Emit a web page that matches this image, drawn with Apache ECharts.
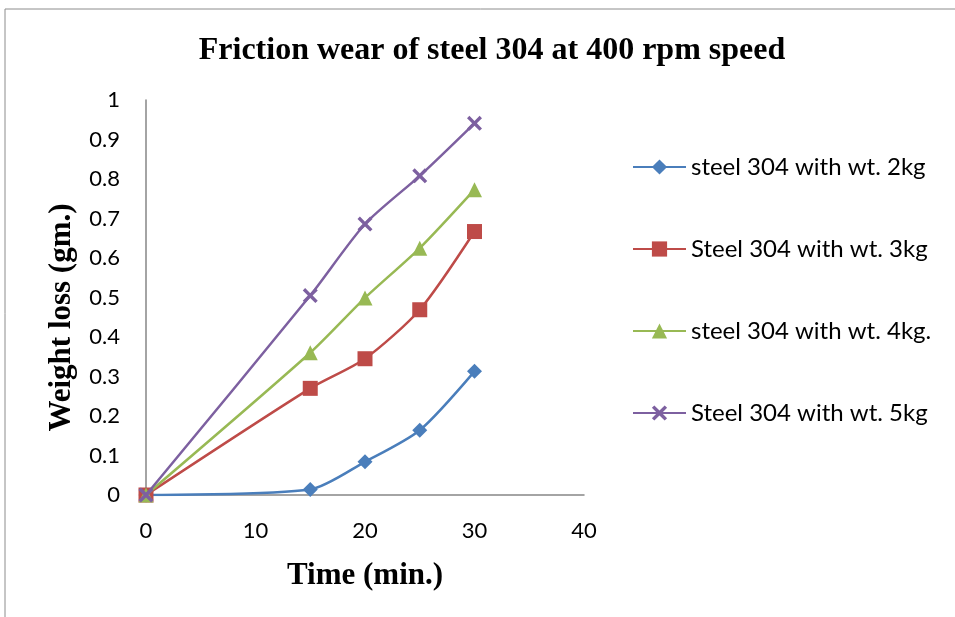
<!DOCTYPE html>
<html>
<head>
<meta charset="utf-8">
<script src="https://cdn.jsdelivr.net/npm/echarts@6/dist/echarts.min.js"></script>
<style>
  html, body { margin: 0; padding: 0; background: #fff; }
  #chart { width: 955px; height: 617px; }
</style>
</head>
<body>
<div id="chart"></div>
<script>
// Time in minutes (x) and weight loss in grams (y) for each applied load
const timeMin = [0, 15, 20, 25, 30];
const loss2kg = [0, 0.014, 0.084, 0.164, 0.313];
const loss3kg = [0, 0.270, 0.345, 0.469, 0.667];
const loss4kg = [0, 0.360, 0.499, 0.625, 0.773];
const loss5kg = [0, 0.505, 0.686, 0.808, 0.941];

const seriesNames = [
  'steel 304 with wt. 2kg',
  'Steel 304 with wt. 3kg',
  'steel 304 with wt. 4kg.',
  'Steel 304 with wt. 5kg'
];
const seriesValues = [loss2kg, loss3kg, loss4kg, loss5kg];
const colors = ['#4A7EBB', '#BE4B48', '#98B954', '#7D60A0'];
const symbols = [
  'diamond',
  'rect',
  'triangle',
  'path://M0,1.6 L1.6,0 L5,3.4 L8.4,0 L10,1.6 L6.6,5 L10,8.4 L8.4,10 L5,6.6 L1.6,10 L0,8.4 L3.4,5 Z'
];
const symbolSizes = [15, 15, 15, 15];

const pair = (xs, ys) => xs.map((x, i) => [x, ys[i]]);

const serifBold = {
  fontFamily: 'Liberation Serif',
  fontWeight: 'bold',
  color: '#000'
};

const chart = echarts.init(document.getElementById('chart'));

chart.setOption({
  animation: false,
  backgroundColor: '#fff',
  title: {
    text: 'Friction wear of steel 304 at 400 rpm speed',
    left: 487,
    top: 30,
    textAlign: 'center',
    textStyle: Object.assign({ fontSize: 32 }, serifBold)
  },
  graphic: [{
    type: 'rect',
    shape: { x: 5, y: 9, width: 980, height: 640 },
    style: { fill: 'none', stroke: '#8c8c8c', lineWidth: 1 },
    z: -1
  }],
  legend: {
    orient: 'vertical',
    left: 627,
    top: 150,
    itemWidth: 53,
    itemHeight: 19,
    itemGap: 58,
    textStyle: {
      fontFamily: 'Lato',
      fontSize: 24,
      lineHeight: 24,
      color: '#000'
    },
    data: seriesNames
  },
  grid: {
    left: 146,
    top: 100,
    right: 371,
    bottom: 122,
    containLabel: false
  },
  xAxis: {
    type: 'value',
    min: 0,
    max: 40,
    interval: 10,
    name: 'Time (min.)',
    nameLocation: 'middle',
    nameGap: 65,
    nameTextStyle: Object.assign({ fontSize: 31 }, serifBold),
    axisLine: { lineStyle: { color: '#868686', width: 1.5 } },
    axisTick: { show: false },
    splitLine: { show: false },
    axisLabel: {
      fontFamily: 'Lato',
      fontSize: 22,
      color: '#000',
      margin: 25
    }
  },
  yAxis: {
    type: 'value',
    min: 0,
    max: 1,
    interval: 0.1,
    name: 'Weight loss (gm.)',
    nameLocation: 'middle',
    nameGap: 69,
    nameTextStyle: Object.assign({ fontSize: 31, padding: [0, 40, 0, 0] }, serifBold),
    axisLine: { show: true, lineStyle: { color: '#868686', width: 1.5 } },
    axisTick: { show: false },
    splitLine: { show: false },
    axisLabel: {
      fontFamily: 'Lato',
      fontSize: 22,
      color: '#000',
      margin: 26,
      formatter: v => String(+v.toFixed(1))
    }
  },
  series: seriesNames.map((name, i) => ({
    name: name,
    type: 'line',
    smooth: 0.25,
    data: pair(timeMin, seriesValues[i]),
    symbol: symbols[i],
    symbolSize: symbolSizes[i],
    showAllSymbol: true,
    itemStyle: { color: colors[i] },
    lineStyle: { color: colors[i], width: 2.5 },
    z: 2 + i
  }))
});
</script>
</body>
</html>
